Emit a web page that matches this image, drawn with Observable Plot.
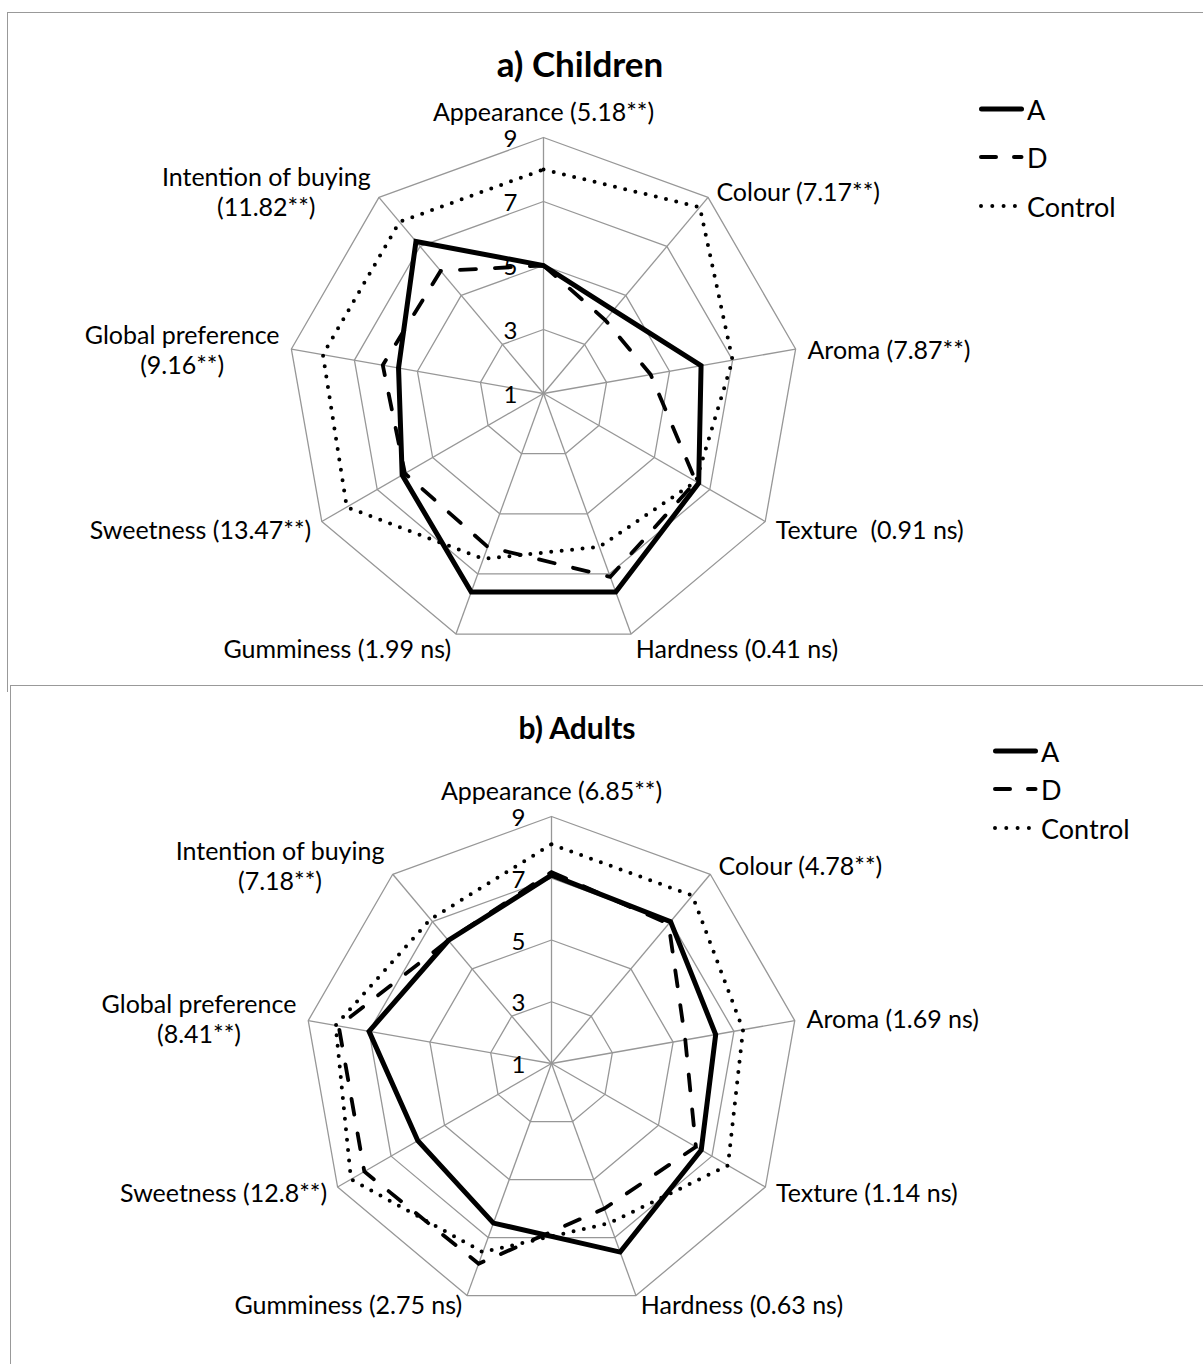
<!DOCTYPE html>
<html>
<head>
<meta charset="utf-8">
<script src="https://cdn.jsdelivr.net/npm/d3@7"></script>
<script src="https://cdn.jsdelivr.net/npm/@observablehq/plot@0.6"></script>
<style>
  body { margin: 0; background: #fff; }
  #page { position: relative; width: 1203px; height: 1364px; overflow: hidden; font-family: Lato, "Open Sans", sans-serif; color: #000; background: #fff; }
  .chart { position: absolute; left: 0; }
  .chart svg text { white-space: pre; }
  .frame { position: absolute; box-sizing: border-box; border-top: 1.5px solid #999; border-left: 1.5px solid #999; pointer-events: none; }
  .title { position: absolute; font-weight: bold; transform: translate(-50%, -50%); white-space: nowrap; }
  .legend-row { position: absolute; display: flex; align-items: center; height: 30px; font-size: 27px; white-space: nowrap; }
  .legend-row svg { display: block; }
</style>
</head>
<body>
<div id="page"></div>
<script>
// Sensory attributes, clockwise from the top of each radar
const categories = ["Appearance", "Colour", "Aroma", "Texture", "Hardness", "Gumminess", "Sweetness", "Global preference", "Intention of buying"];

// Axis labels with the F statistic of each attribute
const childrenLabels = ["Appearance (5.18**)", "Colour (7.17**)", "Aroma (7.87**)", "Texture  (0.91 ns)", "Hardness (0.41 ns)", "Gumminess (1.99 ns)", "Sweetness (13.47**)", "Global preference\n(9.16**)", "Intention of buying\n(11.82**)"];
const adultsLabels = ["Appearance (6.85**)", "Colour (4.78**)", "Aroma (1.69 ns)", "Texture (1.14 ns)", "Hardness (0.63 ns)", "Gumminess (2.75 ns)", "Sweetness (12.8**)", "Global preference\n(8.41**)", "Intention of buying\n(7.18**)"];

// Mean hedonic scores (9-point scale)
const childrenA       = [5.0, 4.4, 6.0, 6.6, 7.6, 7.6, 6.1, 5.6, 7.2];
const childrenD       = [5.0, 4.0, 4.4, 6.5, 7.1, 6.1, 6.0, 6.1, 6.0];
const childrenControl = [8.0, 8.6, 7.0, 6.5, 6.1, 6.5, 8.1, 8.0, 8.0];

const adultsA       = [7.1, 7.0, 6.4, 6.6, 7.5, 6.5, 6.0, 7.0, 6.2];
const adultsD       = [7.2, 6.9, 5.4, 6.4, 6.0, 7.9, 8.0, 8.0, 6.2];
const adultsControl = [8.1, 8.1, 7.3, 7.6, 6.5, 7.5, 8.5, 8.1, 7.1];

const seriesNames = ["A", "D", "Control"];
const ringLevels = [3, 5, 7, 9];
const tickLabels = ["1", "3", "5", "7", "9"];
const scaleMin = 1, scaleMax = 9;

// Line styles of the three formulations
const seriesStyle = {
  A:       { strokeWidth: 5,   strokeDasharray: null,     strokeLinecap: "butt",  legendDash: null },
  D:       { strokeWidth: 3.8, strokeDasharray: "16 19",  strokeLinecap: "round", legendDash: "15 18" },
  Control: { strokeWidth: 4,   strokeDasharray: "0 10.5", strokeLinecap: "round", legendDash: "0 11.3" }
};

const FONT = "Lato, 'Open Sans', sans-serif";
const labelSize = 25;
const tickSize = 24;
const measureCtx = document.createElement("canvas").getContext("2d");
function blockWidth(text, size) {
  measureCtx.font = `${size}px Lato`;
  return Math.max(...text.split("\n").map(l => measureCtx.measureText(l).width));
}

function radar({ W, H, cx, cy, R, labels, values, nudge }) {
  const n = categories.length;
  const theta = i => 2 * Math.PI * i / n;
  const rad = v => (v - scaleMin) / (scaleMax - scaleMin);
  const px = 1 / R; // one screen pixel in data units
  const pt = (v, i) => ({ x: rad(v) * Math.sin(theta(i)), y: rad(v) * Math.cos(theta(i)) });

  const rings = ringLevels.flatMap(level => categories.map((c, i) => ({ level, ...pt(level, i) })));
  const spokes = categories.map((c, i) => ({ category: c, x0: 0, y0: 0, ...pt(scaleMax, i) }));
  const rows = seriesNames.flatMap((s, k) => values[k].map((v, i) => ({ series: s, category: categories[i], value: v, ...pt(v, i) })));
  const ticks = tickLabels.map(t => ({ label: t, x: -26 * px, y: rad(+t) }));

  // attribute names sit just outside the outer ring, pushed away from the centre
  const catLabels = labels.map((text, i) => {
    const s = Math.sin(theta(i)), c = Math.cos(theta(i));
    const v = pt(scaleMax, i);
    let x = v.x + 11 * px * s;
    let y = v.y + 11 * px * c;
    const w = blockWidth(text, labelSize) * px;
    if (s > 0.1) x += w / 2 + px;
    else if (s < -0.1) x -= w / 2 + px;
    const down = c > 0.9 ? nudge.up : c < -0.9 ? nudge.low : nudge.side;
    y -= down * px;
    return { text, x, y };
  });

  const marks = [
    Plot.line(rings, { x: "x", y: "y", z: "level", curve: "linear-closed", stroke: "#979797", strokeWidth: 1.3 }),
    Plot.link(spokes, { x1: "x0", y1: "y0", x2: "x", y2: "y", stroke: "#979797", strokeWidth: 1.3 }),
    ...["Control", "D", "A"].map(s => Plot.line(rows.filter(d => d.series === s), {
      x: "x", y: "y", curve: "linear-closed", stroke: "#000",
      strokeWidth: seriesStyle[s].strokeWidth,
      strokeDasharray: seriesStyle[s].strokeDasharray,
      strokeLinecap: seriesStyle[s].strokeLinecap,
      strokeLinejoin: "miter", strokeMiterlimit: 4
    })),
    Plot.text(ticks, { x: "x", y: "y", text: "label", textAnchor: "end", dy: 2, fontSize: tickSize, fill: "#000" }),
    Plot.text(catLabels, { x: "x", y: "y", text: "text", textAnchor: "middle", lineAnchor: "middle", lineHeight: 1.2, fontSize: labelSize, fill: "#000" })
  ];

  return Plot.plot({
    width: W, height: H, margin: 0,
    x: { domain: [-cx / R, (W - cx) / R], range: [0, W], axis: null },
    y: { domain: [-(H - cy) / R, cy / R], range: [H, 0], axis: null },
    style: { background: "transparent", fontFamily: FONT, overflow: "visible" },
    marks
  });
}

const page = document.getElementById("page");

function addChart({ top, H, cx, cy, R, labels, values, nudge, title, titleSize, titleX, titleY, legendX, legendYs }) {
  const holder = document.createElement("div");
  holder.className = "chart";
  holder.style.top = top + "px";
  holder.appendChild(radar({ W: 1203, H, cx, cy: cy - top, R, labels, values, nudge }));
  page.appendChild(holder);

  const t = document.createElement("div");
  t.className = "title";
  t.textContent = title;
  t.style.fontSize = titleSize + "px";
  t.style.left = titleX + "px";
  t.style.top = titleY + "px";
  page.appendChild(t);

  seriesNames.forEach((s, k) => {
    const row = document.createElement("div");
    row.className = "legend-row";
    row.style.left = legendX + "px";
    row.style.top = (legendYs[k] - 15) + "px";
    const st = seriesStyle[s];
    const svg = d3.create("svg").attr("width", 47).attr("height", 30);
    svg.append("line")
      .attr("x1", s === "A" ? 2.5 : 2).attr("x2", s === "Control" ? 36 : 42.5)
      .attr("y1", 15).attr("y2", 15)
      .attr("stroke", "#000")
      .attr("stroke-width", s === "A" ? 5 : 4)
      .attr("stroke-linecap", "round")
      .attr("stroke-dasharray", st.legendDash);
    row.appendChild(svg.node());
    const lab = document.createElement("span");
    lab.textContent = s;
    lab.style.marginLeft = "1px";
    row.appendChild(lab);
    page.appendChild(row);
  });
}

addChart({
  top: 90, H: 580, cx: 543, cy: 393, R: 256,
  labels: childrenLabels, values: [childrenA, childrenD, childrenControl],
  nudge: { up: -15, side: 2, low: 4 },
  title: "a) Children", titleSize: 35, titleX: 580, titleY: 63,
  legendX: 979, legendYs: [109, 157, 206]
});

addChart({
  top: 765, H: 585, cx: 551, cy: 1063, R: 247,
  labels: adultsLabels, values: [adultsA, adultsD, adultsControl],
  nudge: { up: -15, side: 0, low: -2 },
  title: "b) Adults", titleSize: 30, titleX: 577, titleY: 727,
  legendX: 993, legendYs: [751, 789, 828]
});

// Chart frames
const f1 = document.createElement("div");
f1.className = "frame";
Object.assign(f1.style, { left: "7px", top: "12px", width: "1300px", height: "680px" });
page.appendChild(f1);
const f2 = document.createElement("div");
f2.className = "frame";
Object.assign(f2.style, { left: "9.5px", top: "685px", width: "1300px", height: "800px" });
page.appendChild(f2);
</script>
</body>
</html>
